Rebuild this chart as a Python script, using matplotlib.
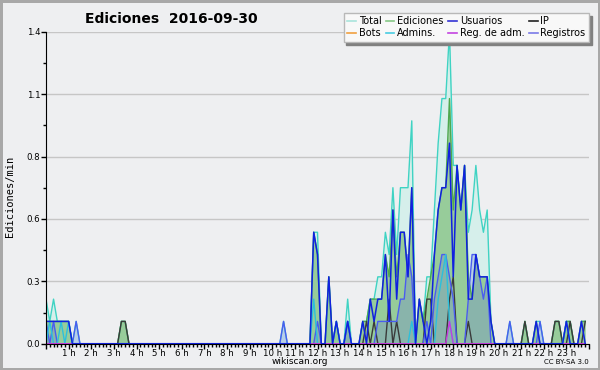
"""Wikiscan-style daily activity chart: edits per minute in 10-minute slots."""
import matplotlib
matplotlib.use("Agg")
import matplotlib.pyplot as plt
import numpy as np
from matplotlib.lines import Line2D
from matplotlib.ticker import FixedLocator, MultipleLocator

N_SLOTS = 144  # 10-minute slots over the day

# values in edits/min, keyed by slot index (missing slots are 0)
TOTAL = {0: .2, 1: .1, 2: .2, 3: .1, 4: .1, 5: .1, 6: .1, 8: .1, 20: .1, 21: .1,
         63: .1, 71: .5, 72: .5, 75: .3, 77: .1, 80: .2, 84: .1, 85: .1, 86: .2,
         87: .2, 88: .3, 89: .3, 90: .5, 91: .4, 92: .7, 93: .4, 94: .7, 95: .7,
         96: .7, 97: 1.0, 99: .2, 100: .1, 101: .3, 102: .3, 103: .6, 104: .9,
         105: 1.1, 106: 1.1, 107: 1.4, 108: .8, 109: .8, 110: .6, 111: .8, 112: .5,
         113: .6, 114: .8, 115: .6, 116: .5, 117: .6, 118: .1, 123: .1, 127: .1,
         130: .1, 131: .1, 135: .1, 136: .1, 138: .1, 139: .1, 142: .1, 143: .1}
EDICIONES = {0: .1, 1: .1, 2: .1, 3: .1, 4: .1, 5: .1, 6: .1, 20: .1, 21: .1,
             71: .5, 72: .4, 75: .3, 77: .1, 80: .1, 84: .1, 85: .1, 86: .2, 87: .2,
             88: .2, 89: .2, 90: .4, 91: .3, 92: .6, 93: .3, 94: .5, 95: .5, 96: .3,
             97: .7, 99: .2, 100: .1, 101: .2, 102: .3, 103: .4, 104: .6, 105: .7,
             106: .7, 107: 1.1, 108: .6, 109: .8, 110: .6, 111: .8, 112: .3, 113: .2,
             114: .4, 115: .3, 116: .3, 117: .3, 118: .1, 127: .1, 130: .1, 135: .1,
             136: .1, 138: .1, 139: .1, 142: .1, 143: .1}
USUARIOS = {0: .1, 1: .1, 2: .1, 3: .1, 4: .1, 5: .1, 6: .1, 71: .5, 72: .4, 75: .3,
            77: .1, 80: .1, 84: .1, 86: .2, 87: .1, 88: .2, 89: .2, 90: .4, 91: .1,
            92: .6, 93: .2, 94: .5, 95: .5, 96: .3, 97: .7, 99: .2, 100: .1, 102: .1,
            103: .4, 104: .6, 105: .7, 106: .7, 107: .9, 108: .3, 109: .8, 110: .6,
            111: .8, 112: .2, 113: .2, 114: .4, 115: .3, 116: .3, 117: .3, 118: .1,
            130: .1, 138: .1, 142: .1}
IP = {20: .1, 21: .1, 85: .1, 87: .1, 91: .2, 93: .1, 101: .2, 102: .2, 107: .2,
      108: .3, 112: .1, 127: .1, 135: .1, 136: .1, 139: .1, 143: .1}
BOTS = {}
ADMINS = {1: .1, 4: .1, 6: .1, 71: .2, 77: .1, 80: .1, 97: .1, 104: .2, 105: .3,
          106: .4, 107: .1, 138: .1}
REG_ADM = {107: .1}
REGISTROS = {0: .1, 2: .1, 8: .1, 63: .1, 72: .1, 80: .1, 88: .1, 89: .1, 90: .1,
             91: .1, 92: .1, 93: .1, 94: .2, 95: .2, 96: .4, 97: .3, 101: .1, 103: .2,
             104: .3, 105: .4, 106: .4, 107: .3, 108: .2, 112: .2, 113: .4, 114: .4,
             115: .3, 116: .2, 117: .3, 123: .1, 131: .1}

Y_MAX = 1.4
HOUR_LABELS = [f"{h} h" if 0 < h < 24 else "" for h in range(25)]

BG = "#eeeff1"
LEG = {  # legend swatch colours
    "Total": "#a9e4dc", "Ediciones": "#86c886", "Usuarios": "#3434d4", "IP": "#222222",
    "Bots": "#f0a040", "Admins.": "#48cce2", "Reg. de adm.": "#c444e0",
    "Registros": "#7a7ae8",
}


def series(d):
    v = np.zeros(N_SLOTS)
    for k, val in d.items():
        v[k] = val
    return v


hours = np.arange(N_SLOTS) / 6.0
tot, edi, usr, ip = series(TOTAL), series(EDICIONES), series(USUARIOS), series(IP)
bots, adm, radm, reg = series(BOTS), series(ADMINS), series(REG_ADM), series(REGISTROS)

fig = plt.figure(figsize=(6, 3.7), dpi=100)
fig.patch.set_facecolor(BG)
fig.patch.set_edgecolor("#a8a8a8")
fig.patch.set_linewidth(2.5)
ax = fig.add_axes([46 / 600, 1 - 343.7 / 370, 543 / 600, 312 / 370])
ax.set_facecolor(BG)

# areas
ax.fill_between(hours, 0, tot, color="#d6efeb", lw=0, zorder=1)
ax.fill_between(hours, 0, edi, color="#8cc68c", alpha=0.85, lw=0, zorder=2)
ax.fill_between(hours, 0, reg, color="#6070e0", alpha=0.25, lw=0, zorder=3)

# lines
ax.plot(hours, tot, color="#3fd3c3", lw=1.0, zorder=4)
ax.plot(hours, edi, color="#4fa84f", lw=1.0, zorder=4)
ax.plot(hours, bots, color=LEG["Bots"], lw=1.0, zorder=3)
ax.plot(hours, ip, color="#3a3a3a", lw=1.0, zorder=5)
ax.plot(hours, reg, color="#4a5cf0", lw=1.0, zorder=5)
ax.plot(hours, adm, color="#2cc0dc", lw=1.0, zorder=5)
ax.plot(hours, radm, color="#c63ce0", lw=1.0, zorder=5)
ax.plot(hours, usr, color="#1020e0", lw=1.1, zorder=6)

ax.set_xlim(0, 24)
ax.set_ylim(0, Y_MAX)
yt = np.linspace(0, Y_MAX, 6)
ax.set_yticks(yt)
ax.set_yticklabels([f"{v:.1f}" for v in yt])
ax.yaxis.set_minor_locator(FixedLocator((yt[:-1] + yt[1:]) / 2))
ax.set_xticks(range(25))
ax.set_xticklabels(HOUR_LABELS)
ax.xaxis.set_minor_locator(MultipleLocator(1 / 6))
ax.tick_params(which="major", length=3.5, width=1, color="black", labelsize=6.2, pad=0.5)
ax.tick_params(which="minor", length=2.5, width=1, color="black")
ax.yaxis.grid(True, color="#c6c6c6", lw=1)
ax.set_axisbelow(True)
for s in ("top", "right"):
    ax.spines[s].set_visible(False)
for s in ("left", "bottom"):
    ax.spines[s].set_color("black")
    ax.spines[s].set_zorder(7)

order = ["Total", "Bots", "Ediciones", "Admins.", "Usuarios", "Reg. de adm.", "IP", "Registros"]
handles = [Line2D([], [], color=LEG[k], lw=1.2) for k in order]
leg = ax.legend(handles, order, ncol=4, loc="upper right",
                bbox_to_anchor=(589 / 600, 1 - 13 / 370), bbox_transform=fig.transFigure,
                fontsize=7, frameon=True, fancybox=False, framealpha=1,
                shadow={"ox": 2, "oy": -2, "color": "#808080", "alpha": 1},
                handlelength=0.9, handletextpad=0.3, columnspacing=0.45,
                labelspacing=0.2, borderpad=0.35, borderaxespad=0)
leg.get_frame().set_facecolor("#f8f8f8")
leg.get_frame().set_edgecolor("#b8b8b8")
leg.set_zorder(10)

fig.text(85 / 600, 1 - 19 / 370, "Ediciones  2016-09-30", fontsize=10,
         fontweight="bold", ha="left", va="center")
fig.text(10 / 600, 1 - 196 / 370, "Ediciones/min", rotation=90, fontsize=7.5,
         family="DejaVu Sans Mono", ha="center", va="center")
fig.text(300 / 600, 1 - 362 / 370, "wikiscan.org", fontsize=6.5, ha="center", va="center")
fig.text(589 / 600, 1 - 362 / 370, "CC BY-SA 3.0", fontsize=5, ha="right", va="center")

fig.savefig("out.png", dpi=100, facecolor=BG, edgecolor=fig.get_edgecolor())
